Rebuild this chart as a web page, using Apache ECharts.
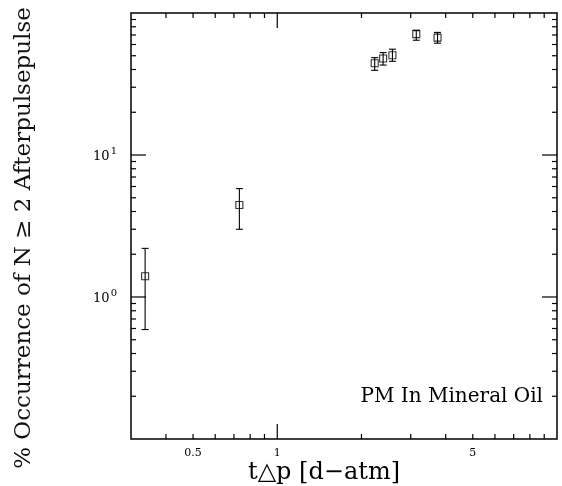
<!DOCTYPE html>
<html><head><meta charset="utf-8">
<script src="https://cdn.jsdelivr.net/npm/echarts@6/dist/echarts.min.js"></script>
<style>html,body{margin:0;padding:0;background:#fff}#c{width:562px;height:486px}</style>
</head><body><div id="c"></div>
<script>
// data
const xValues = [0.337, 0.732, 2.23, 2.39, 2.58, 3.14, 3.74];
const yValues = [1.40, 4.45, 44.3, 47.8, 50.4, 71.0, 67.1];
const yLow    = [0.59, 3.0, 39.5, 43.0, 45.7, 64.3, 61.3];
const yHigh   = [2.2, 5.8, 48.5, 52.6, 55.6, 75.7, 73.0];
// axes
const xTickLabels = [0.5, 1, 5];
const yTickLabels = [1, 10];
const xMajorTicks = [1];
const xMinorTicks = [0.4, 0.5, 0.6, 0.7, 0.8, 0.9, 2, 3, 4, 5, 6, 7, 8, 9];
const yMajorTicks = [1, 10];
const yMinorTicks = [0.2, 0.3, 0.4, 0.5, 0.6, 0.7, 0.8, 0.9, 2, 3, 4, 5, 6, 7, 8, 9, 20, 30, 40, 50, 60, 70, 80, 90];
const xRange = [0.3, 10];
const yRange = [0.1, 100];
const xTitle = 't\u25B3p [d\u2212atm]';
const yTitle = '% Occurrence of N \u2265 2 Afterpulsepulse';
const note = 'PM In Mineral Oil';

const FONT = 'DejaVu Serif';
const chart = echarts.init(document.getElementById('c'), null, {renderer: 'canvas'});

function xTickSeries(vals, len) {
  return {
    type: 'custom', silent: true, z: 5,
    data: vals.map(v => [v, 1]),
    renderItem: function (params, api) {
      const cs = params.coordSys;
      const x = api.coord([api.value(0), 1])[0];
      const b = cs.y + cs.height, t = cs.y;
      return {type: 'group', children: [
        {type: 'line', shape: {x1: x, y1: b, x2: x, y2: b - len}, style: {stroke: '#000', lineWidth: 1.2}},
        {type: 'line', shape: {x1: x, y1: t, x2: x, y2: t + len}, style: {stroke: '#000', lineWidth: 1.2}}
      ]};
    }
  };
}
function yTickSeries(vals, len) {
  return {
    type: 'custom', silent: true, z: 5,
    data: vals.map(v => [1, v]),
    renderItem: function (params, api) {
      const cs = params.coordSys;
      const y = api.coord([1, api.value(1)])[1];
      const l = cs.x, r = cs.x + cs.width;
      return {type: 'group', children: [
        {type: 'line', shape: {x1: l, y1: y, x2: l + len, y2: y}, style: {stroke: '#000', lineWidth: 1.2}},
        {type: 'line', shape: {x1: r, y1: y, x2: r - len, y2: y}, style: {stroke: '#000', lineWidth: 1.2}}
      ]};
    }
  };
}

const option = {
  backgroundColor: '#fff',
  animation: false,
  grid: {left: 131, right: 5, top: 13, bottom: 47, containLabel: false, outerBoundsMode: 'none',
         show: true, borderColor: '#000', borderWidth: 1.5, backgroundColor: 'transparent'},
  xAxis: {
    type: 'log', logBase: 10, min: xRange[0], max: xRange[1],
    axisLine: {show: false}, axisTick: {show: false}, splitLine: {show: false}, minorTick: {show: false},
    axisLabel: {customValues: xTickLabels, formatter: v => String(v), margin: 9, fontFamily: FONT, fontSize: 11, color: '#000'}
  },
  yAxis: {
    type: 'log', logBase: 10, min: yRange[0], max: yRange[1],
    axisLine: {show: false}, axisTick: {show: false}, splitLine: {show: false}, minorTick: {show: false},
    axisLabel: {
      customValues: yTickLabels, margin: 14,
      formatter: v => '{b|10}{s|' + Math.round(Math.log10(v)) + '}',
      rich: {
        b: {fontFamily: FONT, fontSize: 13, color: '#000', padding: [4, 0, 0, 0]},
        s: {fontFamily: FONT, fontSize: 10, color: '#000', padding: [0, 0, 7, 1]}
      }
    }
  },
  graphic: [
    {type: 'text', right: 19, top: 387,
     style: {text: note, fontFamily: FONT, fontSize: 20, fill: '#000'}},
    {type: 'text', x: 324, y: 473,
     style: {text: xTitle, fontFamily: FONT, fontSize: 24, fill: '#000', align: 'center', verticalAlign: 'middle'}},
    {type: 'text', x: 24, y: 238, rotation: Math.PI / 2,
     style: {text: yTitle, fontFamily: FONT, fontSize: 23, fill: '#111', align: 'center', verticalAlign: 'middle'}}
  ],
  series: [
    xTickSeries(xMinorTicks, 5),
    xTickSeries(xMajorTicks, 15),
    yTickSeries(yMinorTicks, 5),
    yTickSeries(yMajorTicks, 15),
    {
      type: 'custom', z: 3,
      data: xValues.map((x, i) => [x, yLow[i], yHigh[i]]),
      encode: {x: 0, y: [1, 2]},
      renderItem: function (params, api) {
        const lo = api.coord([api.value(0), api.value(1)]);
        const hi = api.coord([api.value(0), api.value(2)]);
        const w = 3.5;
        const st = {stroke: '#000', lineWidth: 1.1};
        return {type: 'group', children: [
          {type: 'line', shape: {x1: lo[0], y1: lo[1], x2: hi[0], y2: hi[1]}, style: st},
          {type: 'line', shape: {x1: lo[0] - w, y1: lo[1], x2: lo[0] + w, y2: lo[1]}, style: st},
          {type: 'line', shape: {x1: hi[0] - w, y1: hi[1], x2: hi[0] + w, y2: hi[1]}, style: st}
        ]};
      }
    },
    {
      type: 'scatter', z: 4,
      data: xValues.map((x, i) => [x, yValues[i]]),
      symbol: 'rect', symbolSize: 7,
      itemStyle: {color: 'rgba(0,0,0,0)', borderColor: '#000', borderWidth: 1.1}
    }
  ]
};
chart.setOption(option);
</script>
</body></html>
